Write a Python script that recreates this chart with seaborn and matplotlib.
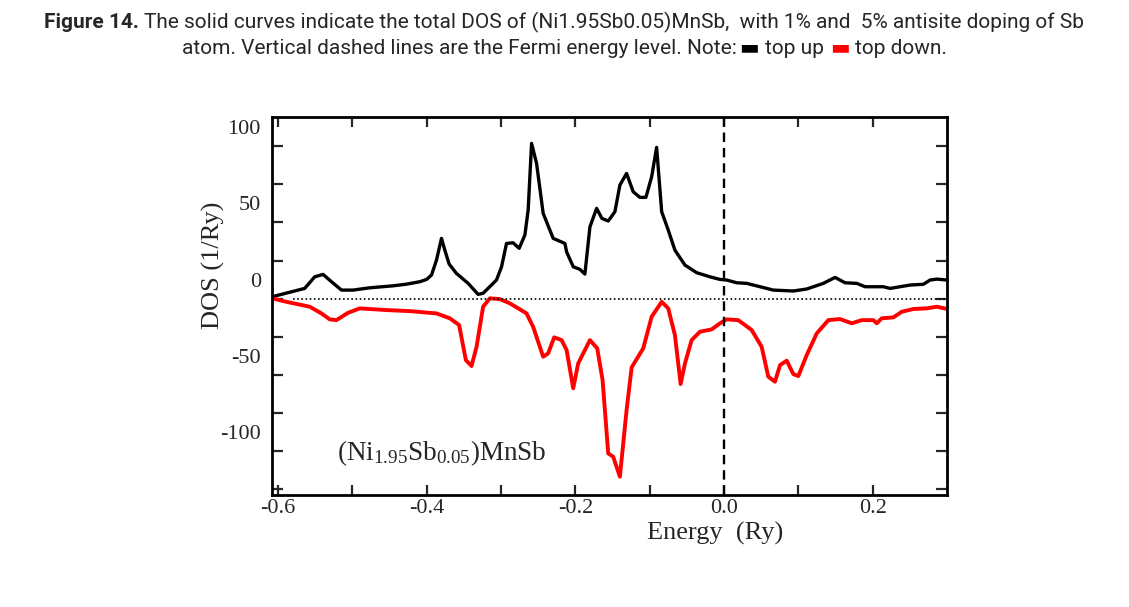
import numpy as np
import pandas as pd
import matplotlib
matplotlib.use("Agg")
import matplotlib.pyplot as plt
import seaborn as sns

# Datos (energia en Ry, DOS en 1/Ry)
energia_up = [-0.608, -0.564, -0.5505, -0.5393, -0.528, -0.5145, -0.499, -0.4764, -0.445, -0.427,
              -0.409, -0.400, -0.3934, -0.3867, -0.380, -0.3755, -0.3697, -0.360, -0.3441, -0.3307,
              -0.324, -0.306, -0.2992, -0.2925, -0.2836, -0.2755, -0.2678, -0.2634, -0.2588, -0.2521,
              -0.2432, -0.2297, -0.214, -0.2117, -0.2028, -0.1938, -0.1871, -0.1803, -0.1713, -0.1642,
              -0.1557, -0.1467, -0.140, -0.131, -0.1221, -0.1131, -0.105, -0.0973, -0.0906, -0.0838,
              -0.075, -0.066, -0.0525, -0.0367, -0.0188, -0.0054, 0.0036, 0.0171, 0.0306, 0.0485,
              0.0664, 0.0933, 0.1113, 0.1336, 0.1494, 0.1629, 0.1786, 0.1898, 0.2144, 0.2234,
              0.2503, 0.2682, 0.2773, 0.2863, 0.2997]
dos_up = [-11.3, -5.8, 1.8, 3.4, -1.4, -6.9, -6.9, -5.4, -4.1, -3.0,
          -1.4, 0.1, 3.0, 12.8, 27.0, 19.3, 10.2, 4.1, -2.5, -9.7,
          -9.0, -0.3, 8.4, 23.7, 24.1, 20.5, 29.2, 45.6, 89.3, 76.2,
          43.4, 27.0, 23.7, 18.2, 8.4, 6.7, 3.6, 34.6, 46.7, 40.1,
          38.4, 44.5, 62.0, 69.6, 57.6, 53.9, 53.9, 67.4, 86.7, 44.5,
          32.5, 19.3, 9.5, 4.5, 1.8, 0.1, -0.3, -2.1, -2.5, -4.7,
          -6.9, -7.5, -6.2, -2.5, 1.4, -2.1, -2.5, -4.7, -4.7, -5.8,
          -3.6, -3.1, -0.3, 0.3, -0.3]

energia_down = [-0.608, -0.5886, -0.5572, -0.5415, -0.5303, -0.5213, -0.5057, -0.4899, -0.454, -0.4226,
                -0.3867, -0.3688, -0.3563, -0.3472, -0.3396, -0.3328, -0.324, -0.3149, -0.3015, -0.288,
                -0.2656, -0.2567, -0.2432, -0.2365, -0.2284, -0.2184, -0.2117, -0.2028, -0.1961, -0.1803,
                -0.1705, -0.1633, -0.1557, -0.149, -0.140, -0.131, -0.1242, -0.1086, -0.0973, -0.0838,
                -0.075, -0.066, -0.0583, -0.0525, -0.0435, -0.0323, -0.0166, -0.0054, 0.0036, 0.0192,
                0.0373, 0.0507, 0.0596, 0.0686, 0.0754, 0.0844, 0.0933, 0.100, 0.1113, 0.1248,
                0.1404, 0.1561, 0.1719, 0.1853, 0.2009, 0.2055, 0.2122, 0.2279, 0.2392, 0.2548,
                0.2728, 0.2863, 0.3019]
dos_down = [-12.3, -14.6, -17.8, -22.2, -26.1, -26.6, -21.8, -18.9, -20.0, -20.7,
            -22.2, -25.4, -29.8, -52.8, -56.7, -44.1, -17.8, -12.3, -12.8, -15.6,
            -22.2, -31.0, -50.6, -48.4, -37.9, -39.7, -46.2, -71.3, -55.0, -39.7,
            -45.1, -65.9, -114.0, -116.2, -129.3, -85.6, -57.6, -45.1, -24.4, -14.6,
            -18.9, -36.4, -68.5, -55.0, -39.7, -34.2, -32.7, -28.7, -26.1, -26.6,
            -33.1, -44.1, -63.7, -67.0, -56.1, -53.2, -62.0, -63.3, -49.5, -35.3,
            -26.6, -25.9, -28.7, -26.6, -26.6, -28.7, -25.4, -24.8, -21.1, -19.3,
            -18.9, -17.8, -19.5]

energia_fermi = 0.0
linea_base = -12.5
inicio_base = -0.58

x_ticks = [-0.6, -0.4, -0.2, 0.0, 0.2]
x_labels = ["-0.6", "-0.4", "-0.2", "0.0", "0.2"]
x_minor = [-0.5, -0.3, -0.1, 0.1]
y_ticks = [100, 50, 0, -50, -100]
y_labels = ["100", "50", "0", "-50", "-100"]
y_minor = [87.5, 62.5, 37.5, 12.5, -12.5, -37.5, -62.5, -87.5, -112.5, -137.5]

df_up = pd.DataFrame({"Energia": energia_up, "DOS": dos_up})
df_down = pd.DataFrame({"Energia": energia_down, "DOS": dos_down})

sns.set_style("ticks")
plt.rcParams["font.family"] = ["Liberation Serif", "DejaVu Serif"]
plt.rcParams["mathtext.fontset"] = "custom"
plt.rcParams["mathtext.rm"] = "Liberation Serif"
plt.rcParams["mathtext.it"] = "Liberation Serif:italic"

fig = plt.figure(figsize=(11.29, 6.07), dpi=100)
ax = fig.add_axes([0.2409, 0.1845, 0.5979, 0.6227])

sns.lineplot(data=df_up, x="Energia", y="DOS", color="black", linewidth=2.4,
             sort=False, estimator=None, ax=ax)
sns.lineplot(data=df_down, x="Energia", y="DOS", color="#ff0000", linewidth=2.8,
             sort=False, estimator=None, ax=ax)

ax.axvline(energia_fermi, color="black", linestyle=(0, (4, 2.5)), linewidth=1.7)
ax.hlines(linea_base, inicio_base, 0.30, color="black", linestyle=(0, (1, 1.5)), linewidth=1.2)

ax.set_xlim(-0.608, 0.30)
ax.set_ylim(-141.3, 106.6)

ax.set_xticks(x_ticks)
ax.set_xticklabels(x_labels)
ax.set_xticks(x_minor, minor=True)
ax.set_yticks(y_ticks)
ax.set_yticklabels(y_labels)
ax.set_yticks(y_minor, minor=True)

ax.tick_params(axis="x", which="both", direction="in", top=True, bottom=True,
               length=7, width=1.6, labelsize=16, pad=3)
ax.tick_params(axis="y", which="major", length=0, labelsize=16, pad=8)
ax.tick_params(axis="y", which="minor", direction="in", left=True, right=True,
               length=8, width=1.6)

for lado in ax.spines.values():
    lado.set_linewidth(2.0)
    lado.set_color("black")

ax.set_xlabel("Energy  (Ry)", fontsize=19)
ax.xaxis.set_label_coords(0.656, -0.101)
ax.xaxis.label.set_va("center")
ax.set_ylabel("DOS (1/Ry)", fontsize=19)
ax.yaxis.set_label_coords(-0.0874, 0.608)
ax.yaxis.label.set_va("center")

ax.text(-0.379, -113.8, r"(Ni$_{\mathrm{1.95}}$Sb$_{\mathrm{0.05}}$)MnSb",
        fontsize=19.5, ha="center", va="center")


# Titulo con partes de distinto estilo, centrado en la figura
def fila_texto(partes, y, size):
    objs = []
    for txt, kw, gap in partes:
        o = fig.text(0, y, txt, fontsize=size, va="center", ha="left",
                     family=["Roboto", "DejaVu Sans"], **kw)
        objs.append((o, gap))
    renderer = fig.canvas.get_renderer()
    anchos = [o.get_window_extent(renderer).width + gap for o, gap in objs]
    x = (fig.bbox.width - sum(anchos)) / 2
    for (o, gap), w in zip(objs, anchos):
        o.set_x(x / fig.bbox.width)
        x += w


fila_texto([("Figure 14.", {"weight": "bold"}, 5),
            ("The solid curves indicate the total DOS of (Ni1.95Sb0.05)MnSb,  with 1% and  5% antisite doping of Sb",
             {}, 0)], 1 - 22 / 607, 15)
fila_texto([("atom. Vertical dashed lines are the Fermi energy level. Note:", {}, 2),
            ("\u25ac", {"color": "black"}, 6),
            ("top up", {}, 6),
            ("\u25ac", {"color": "#ff0000"}, 5),
            ("top down.", {}, 0)], 1 - 48 / 607, 15)

fig.savefig("out.png", dpi=100)
